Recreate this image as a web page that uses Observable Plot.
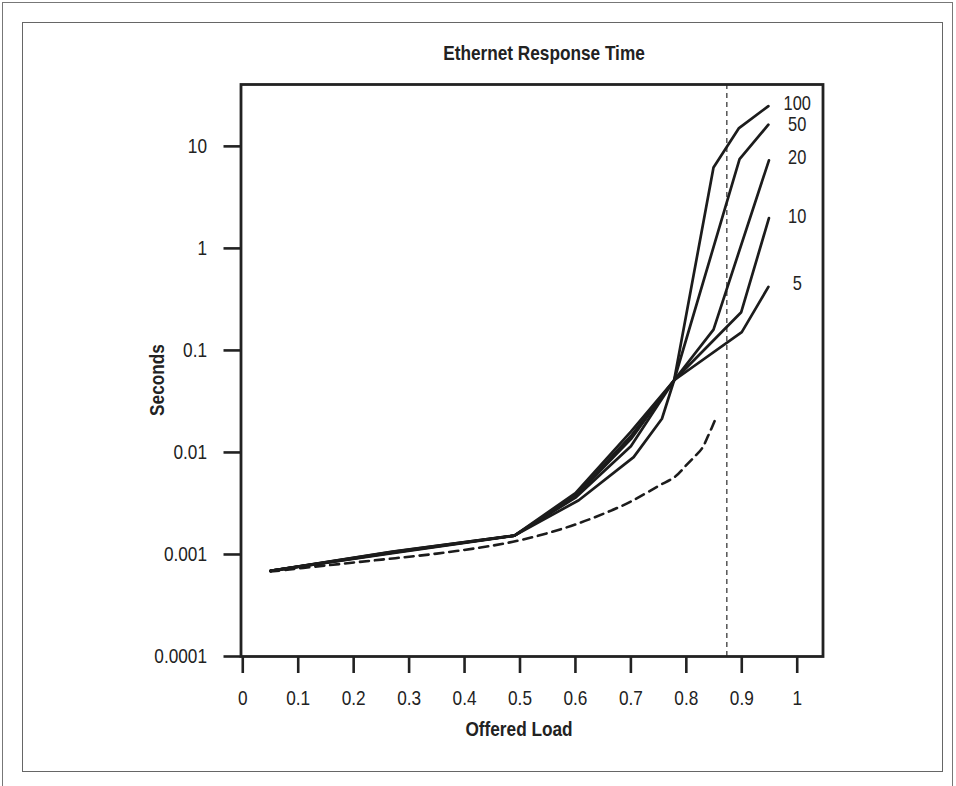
<!DOCTYPE html>
<html><head><meta charset="utf-8">
<script src="https://cdn.jsdelivr.net/npm/d3@7"></script>
<script src="https://cdn.jsdelivr.net/npm/@observablehq/plot@0.6"></script>
<style>
body{margin:0;background:#fff;}
#wrap{position:relative;width:956px;height:786px;overflow:hidden;background:#fff;}
#chart{position:absolute;left:0;top:0;}
.t{position:absolute;font-family:"Liberation Sans",Arial,sans-serif;font-weight:bold;font-size:21px;color:#222;white-space:nowrap;line-height:1;}
#outer{position:absolute;left:2px;top:2px;width:949px;height:810px;border:1.5px solid #777;}
#inner{position:absolute;left:22px;top:22px;width:919px;height:748px;border:1.5px solid #666;}
</style></head>
<body><div id="wrap">
<div id="outer"></div><div id="inner"></div>
<div id="chart"></div>
<div class="t" id="title" style="left:544px;top:52px;transform:translate(-50%,-50%) scaleX(0.82);">Ethernet Response Time</div>
<div class="t" id="xlab" style="left:519px;top:728px;transform:translate(-50%,-50%) scaleX(0.82);">Offered Load</div>
<div class="t" id="ylab" style="left:156px;top:380px;transform:translate(-50%,-50%) rotate(-90deg) scaleX(0.82);">Seconds</div>
</div>
<script>
// ---- data ----
const xTicks = [0, 0.1, 0.2, 0.3, 0.4, 0.5, 0.6, 0.7, 0.8, 0.9, 1];
const xTickLabels = ["0", "0.1", "0.2", "0.3", "0.4", "0.5", "0.6", "0.7", "0.8", "0.9", "1"];
const yTicks = [0.0001, 0.001, 0.01, 0.1, 1, 10];
const yTickLabels = ["0.0001", "0.001", "0.01", "0.1", "1", "10"];

const seriesNames = ["100", "50", "20", "10", "5"];
const load100 = [0.05, 0.27, 0.49, 0.606, 0.705, 0.756, 0.778, 0.849, 0.895, 0.948];
const sec100  = [0.00069, 0.00103, 0.00153, 0.0034, 0.009, 0.0214, 0.051, 6.2, 15.1, 24.8];
const load50  = [0.05, 0.27, 0.49, 0.6, 0.7, 0.778, 0.896, 0.948];
const sec50   = [0.00069, 0.00104, 0.00153, 0.0036, 0.0115, 0.051, 7.5, 16.3];
const load20  = [0.05, 0.27, 0.49, 0.6, 0.7, 0.778, 0.849, 0.949];
const sec20   = [0.00069, 0.00105, 0.00153, 0.0037, 0.0135, 0.051, 0.16, 7.3];
const load10  = [0.05, 0.27, 0.49, 0.6, 0.7, 0.778, 0.899, 0.949];
const sec10   = [0.00069, 0.00106, 0.00153, 0.0038, 0.0145, 0.051, 0.237, 1.98];
const load5   = [0.05, 0.27, 0.49, 0.6, 0.7, 0.778, 0.9, 0.948];
const sec5    = [0.00069, 0.00107, 0.00153, 0.0040, 0.016, 0.051, 0.151, 0.42];

const dashedLoad = [0.05, 0.15, 0.25, 0.35, 0.45, 0.5, 0.55, 0.6, 0.65, 0.7, 0.75, 0.78, 0.8, 0.815, 0.828, 0.84, 0.853];
const dashedSec  = [0.00068, 0.00078, 0.00089, 0.00102, 0.00122, 0.00138, 0.00162, 0.00197, 0.0025, 0.0033, 0.0047, 0.0058, 0.0075, 0.0091, 0.0109, 0.0148, 0.0215];

const markerLoad = [0.873];
const labelLoad = 1.0;
const labelSec = [26.5, 16.4, 7.7, 2.07, 0.45];

// ---- build tables ----
const loads = [load100, load50, load20, load10, load5];
const secs = [sec100, sec50, sec20, sec10, sec5];
const rows = seriesNames.flatMap((s, k) => loads[k].map((x, i) => ({series: s, x, y: secs[k][i]})));
const dashedRows = dashedLoad.map((x, i) => ({x, y: dashedSec[i]}));
const labels = seriesNames.map((s, i) => ({text: s, x: labelLoad, y: labelSec[i]}));

const font = '"Liberation Sans",Arial,sans-serif';
const ink = "#1c1c1c";

const chart = Plot.plot({
  width: 956,
  height: 786,
  marginLeft: 240.5,
  marginRight: 133.5,
  marginTop: 84,
  marginBottom: 130,
  x: {type: "linear", domain: [-0.0032, 1.0465]},
  y: {type: "log", domain: [0.0001, 40.4]},
  style: {fontFamily: font, fontSize: "21px", color: "#222", background: "transparent"},
  marks: [
    Plot.ruleX(markerLoad, {stroke: "#555", strokeWidth: 1.5, strokeDasharray: "5,4"}),
    Plot.line(dashedRows, {x: "x", y: "y", stroke: ink, strokeWidth: 2.6, strokeDasharray: "9,6", curve: "catmull-rom"}),
    Plot.line(rows, {x: "x", y: "y", z: "series", stroke: ink, strokeWidth: 2.7}),
    Plot.text(labels, {x: "x", y: "y", text: "text", fontSize: 20, textAnchor: "middle", fill: "#222"}),
    Plot.frame({stroke: "#222", strokeWidth: 2.8}),
    Plot.axisX({ticks: xTicks, tickFormat: d => xTickLabels[xTicks.indexOf(d)], tickSize: 17, tickPadding: 17, strokeWidth: 2.6, stroke: "#222", label: null}),
    Plot.axisY({ticks: yTicks, tickFormat: d => yTickLabels[yTicks.indexOf(d)], tickSize: 17, tickPadding: 17, strokeWidth: 2.6, stroke: "#222", label: null})
  ]
});
// condense the text horizontally (narrow Helvetica look), scaling about each text's own anchor
chart.querySelectorAll("text").forEach(t => {
  const tr = t.getAttribute("transform") || "";
  let x = parseFloat(t.getAttribute("x"));
  if (!isFinite(x)) x = 0;
  t.setAttribute("transform", `${tr} translate(${x},0) scale(0.82,1) translate(${-x},0)`.trim());
});
document.getElementById("chart").appendChild(chart);
</script>
</body></html>
